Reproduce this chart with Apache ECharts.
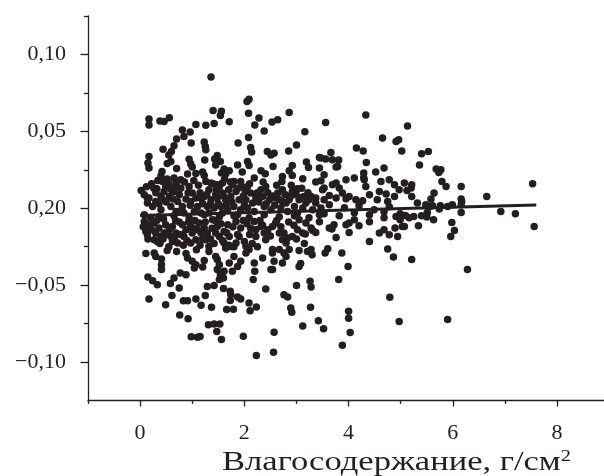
<!DOCTYPE html>
<html><head><meta charset="utf-8">
<script src="https://cdn.jsdelivr.net/npm/echarts@6/dist/echarts.min.js"></script>
<style>html,body{margin:0;padding:0;background:#fff}#c{width:604px;height:476px}</style>
</head><body><div id="c"></div>
<script>
// x: moisture content (g/cm^2), y: residual
const points = [
[1.36,0.0854],[2.09,0.0709],[2.05,0.0694],[1.40,0.0635],[1.56,0.0631],[1.54,0.0603],[2.08,0.0618],[0.17,0.0581],[0.17,0.0542],[0.38,0.0568],
[0.46,0.0564],[0.56,0.0588],[1.07,0.0544],[1.26,0.0540],[1.42,0.0551],[1.71,0.0562],[2.28,0.0586],[2.20,0.0542],[2.38,0.0503],[2.53,0.0560],
[0.81,0.0508],[0.96,0.0495],[0.84,0.0466],[0.70,0.0451],[0.98,0.0425],[1.23,0.0430],[1.25,0.0401],[1.26,0.0380],[0.65,0.0406],[0.60,0.0369],
[0.55,0.0347],[0.44,0.0384],[1.88,0.0425],[2.08,0.0460],[2.12,0.0395],[2.14,0.0365],[0.17,0.0336],[0.15,0.0294],[0.17,0.0261],[0.94,0.0319],
[0.97,0.0289],[1.00,0.0269],[1.24,0.0313],[1.48,0.0343],[1.43,0.0321],[1.54,0.0304],[1.45,0.0282],[0.52,0.0291],[0.59,0.0304],[0.70,0.0258],
[0.42,0.0239],[0.40,0.0211],[0.91,0.0222],[1.07,0.0226],[1.20,0.0235],[1.23,0.0213],[1.61,0.0256],[1.71,0.0244],[1.56,0.0229],[1.64,0.0222],
[1.87,0.0282],[1.96,0.0235],[2.06,0.0304],[2.09,0.0278],[2.32,0.0244],[2.40,0.0224],[2.44,0.0369],[2.51,0.0347],[2.19,0.0196],[0.49,0.0174],
[0.65,0.0196],[0.78,0.0185],[0.56,0.0142],[0.02,0.0116],[0.08,0.0088],[0.14,0.0066],[0.32,0.0127],[1.36,0.0164],[1.48,0.0153],[1.58,0.0164],
[1.80,0.0174],[1.93,0.0174],
[0.11,-0.0295],[0.27,-0.0291],[0.30,-0.0313],[0.41,-0.0330],[0.41,-0.0367],[0.41,-0.0399],[0.52,-0.0274],[0.70,-0.0282],[0.88,-0.0295],[0.91,-0.0323],
[1.00,-0.0345],[1.07,-0.0367],[1.04,-0.0388],[1.23,-0.0339],[1.20,-0.0382],[1.32,-0.0281],[1.45,-0.0313],[1.48,-0.0334],[1.52,-0.0367],[1.48,-0.0399],
[1.54,-0.0432],[1.52,-0.0464],[1.61,-0.0410],[1.60,-0.0453],[1.77,-0.0410],[1.71,-0.0356],[1.80,-0.0313],[1.93,-0.0345],[1.87,-0.0378],[2.03,-0.0291],
[2.09,-0.0269],[2.19,-0.0356],[2.20,-0.0410],[2.17,-0.0464],[2.35,-0.0323],[2.41,-0.0525],[2.51,-0.0399],[2.54,-0.0291],[0.15,-0.0447],[0.24,-0.0471],
[0.33,-0.0497],[0.58,-0.0490],[0.65,-0.0453],[0.77,-0.0421],[0.88,-0.0432],[0.75,-0.0518],[0.17,-0.0590],[0.49,-0.0627],[0.61,-0.0568],[0.83,-0.0601],
[0.91,-0.0601],[1.07,-0.0590],[1.17,-0.0631],[1.25,-0.0568],[1.29,-0.0508],[1.42,-0.0503],[1.60,-0.0521],[1.73,-0.0540],[1.74,-0.0562],[1.87,-0.0577],
[1.93,-0.0590],[1.73,-0.0599],[1.37,-0.0644],[1.66,-0.0659],[1.79,-0.0657],[2.09,-0.0616],[2.11,-0.0666],[2.23,-0.0642],[0.76,-0.0694],[0.92,-0.0719],
[1.31,-0.0758],[1.42,-0.0752],[1.53,-0.0752],[1.47,-0.0802],[1.56,-0.0854],[0.98,-0.0836],[1.10,-0.0839],[1.15,-0.0834],[1.98,-0.0832],[2.23,-0.0958],
[2.56,-0.0936],[2.57,-0.0806],
[3.17,-0.0168],[3.31,-0.0144],[3.37,-0.0157],[3.63,-0.0129],[3.68,-0.0135],[3.76,-0.0190],[3.95,-0.0107],[4.01,-0.0096],[4.01,-0.0157],[4.40,-0.0216],
[4.59,-0.0161],[4.68,-0.0140],[4.78,-0.0172],[4.94,-0.0183],[4.89,-0.0129],[5.03,-0.0118],[4.91,-0.0053],[4.75,-0.0265],[4.86,-0.0317],[3.05,-0.0274],
[3.21,-0.0281],[3.30,-0.0302],[3.55,-0.0291],[3.60,-0.0263],[3.87,-0.0291],[3.08,-0.0360],[3.05,-0.0378],[3.99,-0.0378],[3.81,-0.0464],[3.26,-0.0475],
[3.28,-0.0512],[3.00,-0.0503],[2.76,-0.0562],[2.83,-0.0577],[2.89,-0.0648],[2.91,-0.0677],[3.27,-0.0644],[4.00,-0.0670],[4.00,-0.0716],[3.42,-0.0731],
[3.12,-0.0765],[3.52,-0.0784],[4.03,-0.0808],[3.88,-0.0891],[4.79,-0.0579],[4.97,-0.0737],[2.54,-0.0118],[2.60,-0.0096],[2.67,-0.0161],[2.73,-0.0205],
[2.83,-0.0194],[2.80,-0.0226],[2.54,-0.0269],[2.67,-0.0269],[2.76,-0.0291],[2.80,-0.0313],[2.73,-0.0356],[2.57,-0.0345],[2.54,-0.0399],
[2.86,0.0622],[2.64,0.0575],[3.56,0.0557],[4.33,0.0607],[3.16,0.0497],[5.13,0.0534],[3.00,0.0412],[2.85,0.0373],[2.57,0.0358],[3.56,0.0321],
[3.66,0.0362],[3.69,0.0315],[3.81,0.0313],[4.15,0.0391],[4.28,0.0373],[4.34,0.0297],[4.65,0.0456],[4.91,0.0434],[4.96,0.0445],[5.02,0.0373],
[3.47,0.0326],[2.55,0.0271],[2.92,0.0278],[2.86,0.0244],[2.92,0.0213],[3.19,0.0300],[3.23,0.0265],[3.44,0.0261],[3.53,0.0218],[3.79,0.0271],
[2.73,0.0206],[2.72,0.0174],[3.12,0.0192],[3.37,0.0170],[3.47,0.0179],[3.53,0.0131],[3.50,0.0120],[3.69,0.0153],[3.82,0.0131],[3.88,0.0099],
[3.76,0.0164],[3.95,0.0185],[4.11,0.0196],[4.29,0.0229],[4.30,0.0185],[4.33,0.0142],[4.52,0.0235],[4.68,0.0261],[4.62,0.0174],[4.78,0.0185],
[4.88,0.0153],[4.97,0.0120],[5.07,0.0164],[4.59,0.0109],[4.72,0.0092],[4.88,0.0077],[2.92,0.0109],[3.02,0.0127],[2.94,0.0088],[3.15,0.0077],
[3.24,0.0055],[3.37,0.0066],[3.63,0.0083],[3.76,0.0066],[3.95,0.0062],[4.01,0.0077],[4.14,0.0055],[4.27,0.0049],[4.40,0.0088],[4.55,0.0055],
[4.75,0.0044],[2.60,0.0066],[2.73,0.0044],[2.86,0.0055],[3.44,0.0330],[3.76,0.0268],[4.29,0.0198],
[5.40,0.0354],[5.53,0.0369],[5.36,0.0282],[5.68,0.0256],[5.73,0.0232],[5.77,0.0250],[5.21,0.0153],[5.20,0.0131],[5.12,0.0116],[5.79,0.0174],
[5.87,0.0142],[6.16,0.0142],[5.21,0.0077],[5.64,0.0099],[5.58,0.0060],[5.32,0.0034],[5.48,0.0023],[5.55,0.0012],[5.61,0.0016],[5.76,0.0016],
[5.74,-0.0005],[5.90,0.0012],[5.99,0.0023],[6.16,0.0060],[6.17,0.0044],[6.16,0.0023],[6.65,0.0077],[7.53,0.0159],[5.09,-0.0047],[5.25,-0.0053],
[5.40,-0.0049],[5.50,-0.0057],[5.51,-0.0027],[5.63,-0.0075],[6.16,-0.0027],[6.92,-0.0021],[7.20,-0.0036],[7.56,-0.0118],[5.07,-0.0118],[5.34,-0.0114],
[5.98,-0.0092],[6.03,-0.0144],[5.96,-0.0183],[5.21,-0.0334],[6.28,-0.0399],[5.90,-0.0724],
[0.08,-0.0086],[0.17,-0.0107],[0.11,-0.0151],[0.14,-0.0172],[0.27,-0.0096],[0.36,-0.0129],[0.30,-0.0161],[0.40,-0.0183],[0.27,-0.0205],[0.33,-0.0216],
[0.49,-0.0107],[0.56,-0.0140],[0.62,-0.0118],[0.46,-0.0161],[0.59,-0.0183],[0.69,-0.0161],[0.62,-0.0216],[0.72,-0.0226],[0.81,-0.0107],[0.88,-0.0140],
[0.97,-0.0118],[0.84,-0.0183],[1.00,-0.0161],[1.07,-0.0205],[0.97,-0.0226],[1.13,-0.0096],[1.23,-0.0129],[1.17,-0.0161],[1.29,-0.0161],[1.26,-0.0205],
[1.32,-0.0248],[1.39,-0.0075],[1.48,-0.0118],[1.45,-0.0161],[1.52,-0.0183],[1.61,-0.0151],[1.68,-0.0107],[1.71,-0.0183],[1.61,-0.0226],[1.64,-0.0258],
[1.74,-0.0248],[1.84,-0.0086],[1.93,-0.0129],[1.90,-0.0183],[2.00,-0.0216],[2.03,-0.0248],[1.84,-0.0226],[2.19,-0.0086],[2.22,-0.0140],[2.32,-0.0118],
[2.38,-0.0161],[2.41,-0.0205],[2.22,-0.0183],[2.76,-0.0161],[2.92,-0.0183],[2.86,-0.0269],[3.05,-0.0075],[3.18,-0.0096],[3.28,-0.0129],[3.12,-0.0161],
[3.28,-0.0269],
[0.17,0.0066],[0.14,0.0034],[0.24,0.0012],[0.30,0.0044],[0.43,0.0174],[0.49,0.0142],[0.46,0.0109],[0.56,0.0077],[0.43,0.0055],[0.59,0.0012],
[0.40,-0.0010],[0.69,0.0164],[0.65,0.0109],[0.75,0.0088],[0.72,0.0044],[0.81,0.0012],[0.69,-0.0021],[0.84,-0.0031],[0.94,0.0142],[1.00,0.0099],
[1.07,0.0066],[0.97,0.0044],[1.10,0.0012],[1.04,-0.0021],[1.17,-0.0031],[1.26,0.0174],[1.32,0.0120],[1.23,0.0077],[1.36,0.0055],[1.29,0.0012],
[1.42,0.0001],[1.32,-0.0031],[1.52,0.0142],[1.58,0.0099],[1.48,0.0066],[1.64,0.0055],[1.55,0.0012],[1.68,-0.0010],[1.58,-0.0031],[1.77,0.0153],
[1.84,0.0109],[1.74,0.0077],[1.90,0.0055],[1.80,0.0012],[1.93,-0.0010],[1.87,-0.0042],[2.06,0.0142],[2.12,0.0099],[2.03,0.0055],[2.16,0.0034],
[2.06,0.0001],[2.19,-0.0021],[2.32,0.0120],[2.41,0.0142],[2.35,0.0077],[2.48,0.0055],[2.38,0.0012],[2.51,-0.0010],[2.64,0.0099],[2.73,0.0120],
[2.67,0.0055],[2.80,0.0034],[2.70,0.0001],[2.83,-0.0021],[2.99,0.0099],[3.05,0.0055],[2.96,0.0012],[3.12,0.0001],[3.02,-0.0031],[3.18,0.0034],
[3.28,0.0077],[3.37,0.0034],[3.31,-0.0010],[3.47,0.0001],[3.53,0.0055],[3.44,-0.0042],
[0.08,-0.0042],[0.36,-0.0055],[0.65,-0.0049],[0.94,-0.0062],[1.23,-0.0042],[1.52,-0.0055],[1.80,-0.0049],[2.09,-0.0062],[2.38,-0.0042],[2.67,-0.0055],
[2.96,-0.0049],[3.24,-0.0062],[3.53,-0.0036],[3.82,-0.0049],[4.11,-0.0029],[4.40,-0.0042],[4.68,-0.0023],[4.99,-0.0036],
[3.63,0.0023],[3.92,0.0003],[4.20,0.0016],[4.49,-0.0010],[4.78,0.0010],[4.11,-0.0075],[4.40,-0.0088],[4.68,-0.0062],[3.44,-0.0088],[3.72,-0.0107],
[4.20,-0.0114],[4.99,-0.0075],[5.16,-0.0062],
[0.22,0.0160],[0.30,0.0100],[0.36,0.0030],[0.52,0.0190],[0.60,0.0120],[0.50,0.0040],[0.78,0.0130],[0.88,0.0060],[0.80,-0.0010],[1.03,0.0180],
[1.15,0.0100],[1.20,0.0030],[1.40,0.0160],[1.45,0.0090],[1.35,0.0030],[1.62,0.0190],[1.70,0.0120],[1.65,0.0020],[1.95,0.0140],[1.98,0.0080],
[2.00,0.0020],[2.25,0.0100],[2.28,0.0040],[2.45,0.0100],[2.58,0.0020],[2.88,0.0080],[3.10,0.0130],[3.22,0.0100],
[0.20,-0.0060],[0.22,-0.0140],[0.45,-0.0070],[0.38,-0.0230],[0.55,-0.0250],[0.75,-0.0090],[0.78,-0.0170],[0.90,-0.0210],[1.05,-0.0080],[1.10,-0.0140],
[1.15,-0.0240],[1.38,-0.0130],[1.35,-0.0200],[1.55,-0.0100],[1.58,-0.0210],[1.78,-0.0120],[1.80,-0.0250],[2.05,-0.0100],[2.10,-0.0170],[2.15,-0.0230],
[2.30,-0.0080],[2.45,-0.0140],[2.62,-0.0080],[2.95,-0.0110],[3.00,-0.0200],[3.15,-0.0230],
[0.12,0.0140],[0.26,0.0130],[0.34,0.0180],[0.40,0.0080],[0.55,0.0160],[0.63,0.0060],[0.70,0.0140],[0.85,0.0170],[0.92,0.0100],[0.96,0.0020],
[1.12,0.0150],[1.18,0.0060],[1.28,0.0090],[1.46,0.0120],[1.50,0.0030],[1.60,0.0080],[1.73,0.0170],[1.76,0.0040],[1.88,0.0130],[2.02,0.0110],
[2.10,0.0160],[2.22,0.0070],[2.36,0.0170],[2.42,0.0030],[2.55,0.0080],[2.62,0.0150],[2.78,0.0090],[2.90,0.0150],[3.08,0.0070],
[0.06,-0.0120],[0.15,-0.0200],[0.32,-0.0080],[0.44,-0.0200],[0.52,-0.0170],[0.66,-0.0190],[0.68,-0.0080],[0.83,-0.0240],[0.93,-0.0090],[1.02,-0.0130],
[1.08,-0.0270],[1.20,-0.0200],[1.25,-0.0090],[1.42,-0.0230],[1.44,-0.0080],[1.66,-0.0160],[1.70,-0.0240],[1.87,-0.0170],[1.98,-0.0080],[2.12,-0.0130],
[2.25,-0.0250],[2.35,-0.0110],[2.50,-0.0180],[2.70,-0.0120],[2.85,-0.0090],[3.02,-0.0140]
];
const trendX = [0, 7.6];
const trendY = [-0.0047, 0.0021];
const xTickValues = [0, 2, 4, 6, 8];
const xTickLabels = ['0', '2', '4', '6', '8'];
const xMinorValues = [-1, 1, 3, 5, 7];
const yTickValues = [-0.10, -0.05, 0, 0.05, 0.10];
const yTickLabels = ['\u22120,10', '\u22120,05', '0,20', '0,05', '0,10'];
const yMinorValues = [-0.075, -0.025, 0.025, 0.075, 0.125];
const xTitle = 'Влагосодержание, г/см';
const xTitleSup = '2';

const INK = '#231f20';
const FONT = "'Liberation Serif','Times New Roman',serif";
function pick(vals, labels, v) {
  for (let i = 0; i < vals.length; i++) if (Math.abs(vals[i] - v) < 1e-9) return labels[i];
  return '';
}
const chart = echarts.init(document.getElementById('c'));
const lineStyle = { color: INK, width: 1.3 };
chart.setOption({
  animation: false,
  backgroundColor: '#fff',
  graphic: [{
    type: 'text', x: 222, y: 449, scaleX: 1.28, silent: true,
    style: {
      text: '{a|' + xTitle + '}{s|' + xTitleSup + '}',
      verticalAlign: 'top',
      rich: {
        a: { fontFamily: FONT, fontSize: 27, fontWeight: 'normal', fill: INK, lineHeight: 28 },
        s: { fontFamily: FONT, fontSize: 16, fontWeight: 'normal', fill: INK, verticalAlign: 'top', lineHeight: 28 }
      }
    }
  }],
  grid: { left: 88, right: 0, top: 16, bottom: 75.5, containLabel: false },
  xAxis: [
    { type: 'value', min: -1, max: 8.9, position: 'bottom',
      axisLine: { show: true, onZero: false, lineStyle: lineStyle },
      axisTick: { show: true, customValues: xTickValues, length: 6, lineStyle: lineStyle },
      axisLabel: { show: true, customValues: xTickValues, formatter: v => pick(xTickValues, xTickLabels, v),
        margin: 22, fontSize: 22, fontFamily: FONT, color: INK },
      splitLine: { show: false } },
    { type: 'value', min: -1, max: 8.9, position: 'bottom',
      axisLine: { show: false, onZero: false },
      axisTick: { show: true, customValues: xMinorValues, length: 3.5, lineStyle: lineStyle },
      axisLabel: { show: false }, splitLine: { show: false } }
  ],
  yAxis: [
    { type: 'value', min: -0.125, max: 0.125, position: 'left',
      axisLine: { show: true, onZero: false, lineStyle: lineStyle },
      axisTick: { show: true, customValues: yTickValues, length: 7.5, lineStyle: lineStyle },
      axisLabel: { show: true, customValues: yTickValues, formatter: v => pick(yTickValues, yTickLabels, v),
        margin: 22, fontSize: 22, fontFamily: FONT, color: INK },
      splitLine: { show: false } },
    { type: 'value', min: -0.125, max: 0.125, position: 'left',
      axisLine: { show: false, onZero: false },
      axisTick: { show: true, customValues: yMinorValues, length: 4, lineStyle: lineStyle },
      axisLabel: { show: false }, splitLine: { show: false } }
  ],
  series: [
    { type: 'scatter', xAxisIndex: 0, yAxisIndex: 0, data: points, symbolSize: 7.5,
      itemStyle: { color: INK, opacity: 1 }, silent: true },
    { type: 'line', xAxisIndex: 0, yAxisIndex: 0, data: trendX.map((x, i) => [x, trendY[i]]),
      symbol: 'none', lineStyle: { color: INK, width: 3 }, z: 5, silent: true }
  ]
});
</script></body></html>
